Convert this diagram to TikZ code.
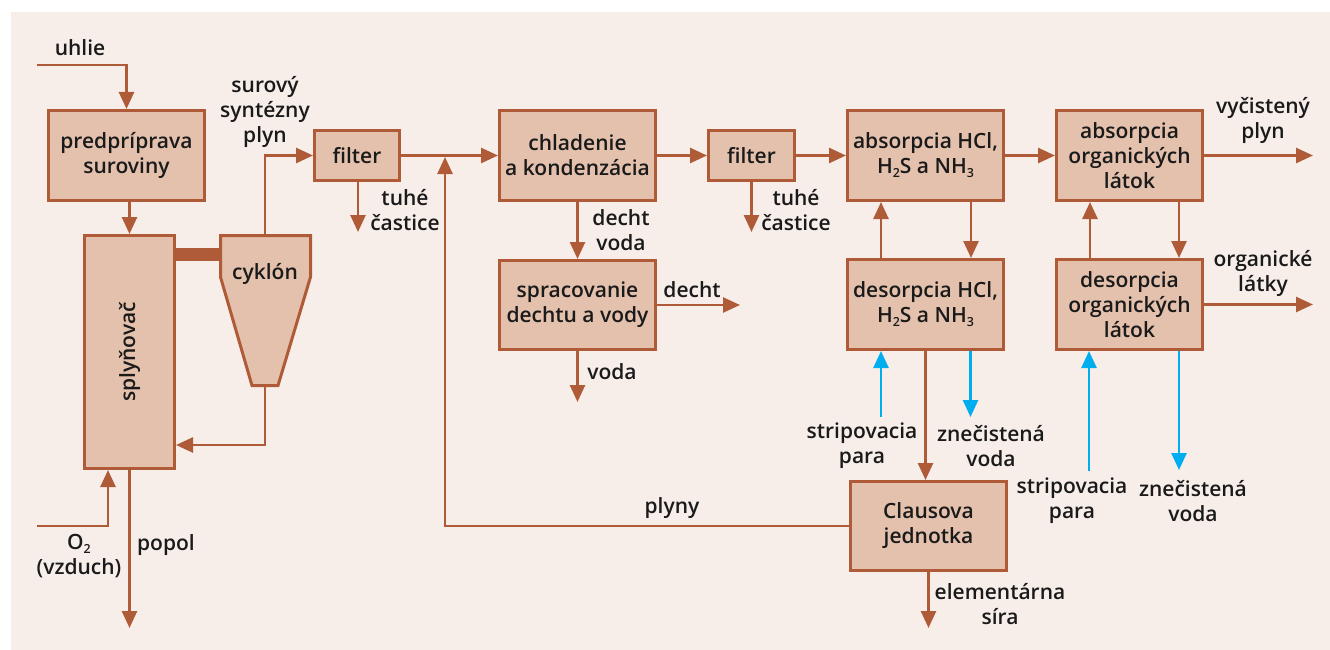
\documentclass[tikz,border=0pt]{standalone}
\usepackage{fontspec}
\IfFontExistsTF{Open Sans Semibold}
  {\setmainfont{Open Sans Semibold}}
  {\IfFontExistsTF{OpenSans-SemiBold}
    {\setmainfont{OpenSans-SemiBold}}
    {\setmainfont{Open Sans}[FakeBold=0.9]}}
\usetikzlibrary{arrows.meta}

\definecolor{bgc}{HTML}{F7EEEA}
\definecolor{boxc}{HTML}{E4C1AD}
\definecolor{brn}{HTML}{B05B38}
\definecolor{blu}{HTML}{00AEEF}
\definecolor{txt}{HTML}{1A1A1A}

% lowered chemical subscript
\newcommand{\chemsub}[1]{\raisebox{-4pt}{\fontsize{12.5}{12.5}\selectfont #1}}

\tikzset{
  txtfont/.style={font=\fontsize{21}{25}\selectfont, text=txt},
  box/.style={draw=brn, fill=boxc, line width=3pt, align=center,
    inner sep=0pt, txtfont},
  lbl/.style={align=center, inner sep=0pt, txtfont},
  flow/.style={draw=brn, line width=2.6pt,
    -{Triangle[length=17pt,width=15pt]}},
  water/.style={draw=blu, line width=2.6pt,
    -{Triangle[length=17pt,width=15pt]}}
}

\begin{document}
\begin{tikzpicture}[x=1pt,y=-1pt]
% canvas
\fill[white] (0,0) rectangle (1330,650);
\fill[bgc] (11,12) rectangle (1330,650);
\useasboundingbox (0,0) rectangle (1330,650);

% process units
\node[box, minimum width=156, minimum height=90] (pred) at (126.5,155.5) {predpríprava\\suroviny};
\node[box, minimum width=90, minimum height=233] (spl) at (129.5,352) {};
\node[lbl, rotate=90] (spltxt) at (spl.center) {splyňovač};
\node[box, minimum width=85, minimum height=50] (f1) at (357,155.5) {filter};
\node[box, minimum width=156, minimum height=90] (chl) at (577.5,155.5) {chladenie\\a kondenzácia};
\node[box, minimum width=86, minimum height=50] (f2) at (751.5,155.5) {filter};
\node[box, minimum width=156, minimum height=89] (spr) at (577.5,305) {spracovanie\\dechtu a vody};
\node[box, minimum width=156, minimum height=90] (absH) at (925.5,155.5) {absorpcia HCl,\\H\chemsub{2}S a NH\chemsub{3}};
\node[box, minimum width=156, minimum height=90] (desH) at (925.5,304.5) {desorpcia HCl,\\H\chemsub{2}S a NH\chemsub{3}};
\node[box, minimum width=146, minimum height=90] (absO) at (1129.5,155.5) {absorpcia\\organických\\látok};
\node[box, minimum width=146, minimum height=90] (desO) at (1129.5,304.5) {desorpcia\\organických\\látok};
\node[box, minimum width=156, minimum height=89] (claus) at (928.5,526) {Clausova\\jednotka};

% cyclone body and the duct joining it to the gasifier
\fill[brn] (176,248) rectangle (221,261);
\draw[draw=brn, fill=boxc, line width=3pt, line join=miter]
  (220.5,235.5) -- (310.5,235.5) -- (310.5,277) -- (278,385.5)
  -- (252,385.5) -- (220.5,277) -- cycle;
\node[lbl] (cyk) at (265,274) {cyklón};
\coordinate (cyktop) at (265,234);
\coordinate (cykbot) at (265,387);
\coordinate (cykret) at (265,445);

% free ends of the streams
\coordinate (uhlieIn) at (37,65);
\coordinate (o2In) at (37,526);
\coordinate (popolOut) at (129.5,628);
\coordinate (t1Out) at (358,232);
\coordinate (t2Out) at (751.5,232);
\coordinate (dechtOut) at (740,305);
\coordinate (vodaOut) at (577.5,402);
\coordinate (vycOut) at (1313,155.5);
\coordinate (orgOut) at (1313,304.5);
\coordinate (siraOut) at (928.5,628);
\coordinate (mix) at (445,155.5);
\coordinate (strip1) at (881,417);
\coordinate (znec1) at (970.5,417);
\coordinate (strip2) at (1089,471);
\coordinate (znec2) at (1179,470);

% gasification section
\draw[flow] (uhlieIn) -| (pred.north);
\draw[flow] (pred.south -| spl.north) -- (spl.north);
\draw[flow] (o2In) -| ([xshift=-21.5pt]spl.south);
\draw[flow] (spl.south) -- (popolOut);
\draw[flow] (cyktop) |- (f1.west);
\draw[flow] (cykbot) -- (cykret) -- (cykret -| spl.east);

% gas cleaning line
\draw[flow] (f1.east) -- (chl.west);
\draw[flow] ([xshift=1pt]f1.south) -- (t1Out);
\draw[flow] (claus.west) -| ([yshift=-1.5pt]mix);
\draw[flow] (chl.east) -- (f2.west);
\draw[flow] (f2.south) -- (t2Out);
\draw[flow] (f2.east) -- (absH.west);
\draw[flow] (chl.south) -- (spr.north);
\draw[flow] (spr.east) -- (dechtOut);
\draw[flow] (spr.south) -- (vodaOut);
\draw[flow] (absH.east) -- (absO.west);
\draw[flow] (absO.east) -- (vycOut);
\draw[flow] (desO.east) -- (orgOut);

% absorption / desorption loops
\draw[flow] ([xshift=-44.5pt]desH.north) -- ([xshift=-44.5pt]absH.south);
\draw[flow] ([xshift=45.5pt]absH.south) -- ([xshift=45.5pt]desH.north);
\draw[flow] ([xshift=-39.5pt]desO.north) -- ([xshift=-39.5pt]absO.south);
\draw[flow] ([xshift=49.5pt]absO.south) -- ([xshift=49.5pt]desO.north);
\draw[flow] (desH.south) -- (desH.south |- claus.north);
\draw[flow] (claus.south) -- (siraOut);

% stripping steam and waste water
\draw[water] (strip1) -- ([xshift=-44.5pt]desH.south);
\draw[water] ([xshift=45pt]desH.south) -- (znec1);
\draw[water] (strip2) -- ([xshift=-40.5pt]desO.south);
\draw[water] ([xshift=49.5pt]desO.south) -- (znec2);

% stream labels
\node[lbl] (l-uhlie) at (80,48) {uhlie};
\node[lbl] (l-syn) at (265,112) {surový\\syntézny\\plyn};
\node[lbl] (l-t1) at (405,210) {tuhé\\častice};
\node[lbl] (l-t2) at (796,210) {tuhé\\častice};
\node[lbl] (l-dv) at (621,230) {decht\\voda};
\node[lbl] (l-decht) at (692,290) {decht};
\node[lbl] (l-voda) at (612,372) {voda};
\node[lbl] (l-o2) at (79,556) {O\chemsub{2}\\(vzduch)};
\node[lbl] (l-popol) at (166,545) {popol};
\node[lbl] (l-plyny) at (672,508) {plyny};
\node[lbl] (l-s1) at (862,446) {stripovacia\\para};
\node[lbl] (l-z1) at (991,446) {znečistená\\voda};
\node[lbl] (l-s2) at (1072,501) {stripovacia\\para};
\node[lbl] (l-z2) at (1193,501) {znečistená\\voda};
\node[lbl] (l-sira) at (1000,604) {elementárna\\síra};
\node[lbl] (l-vyc) at (1263,120) {vyčistený\\plyn};
\node[lbl] (l-org) at (1263,273) {organické\\látky};
\end{tikzpicture}
\end{document}
